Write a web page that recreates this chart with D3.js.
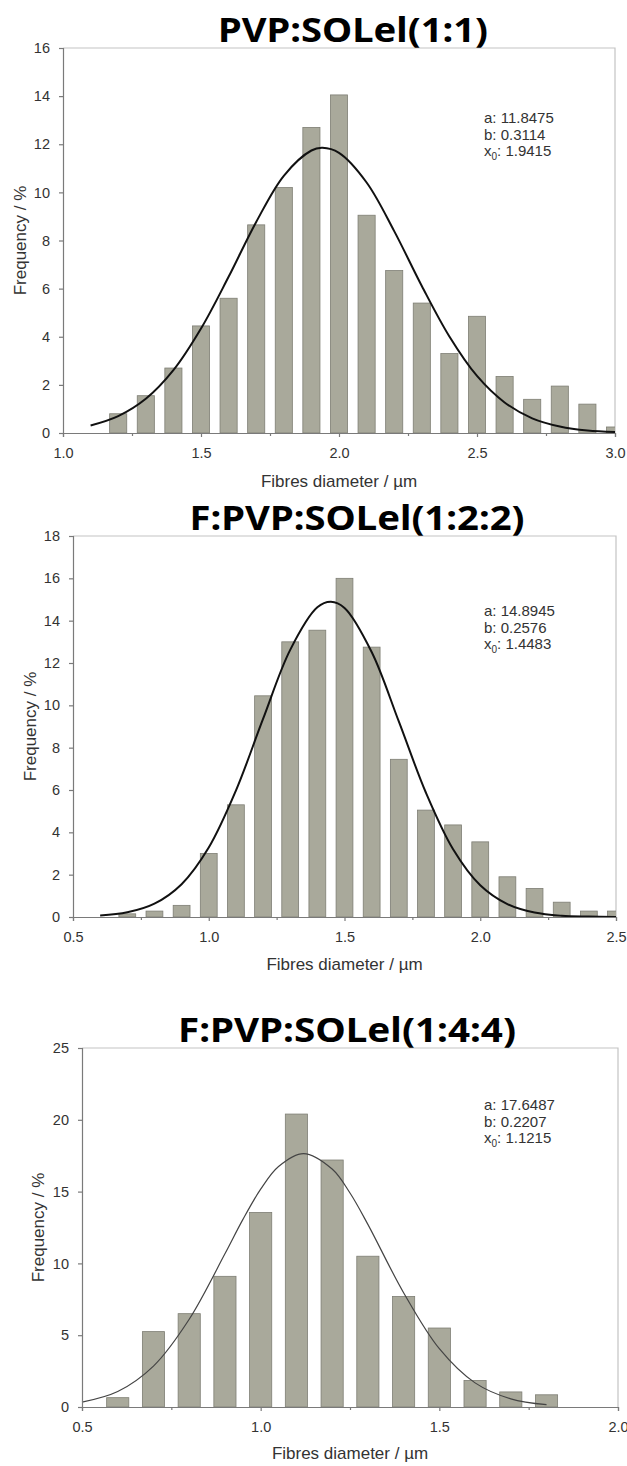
<!DOCTYPE html>
<html>
<head>
<meta charset="utf-8">
<script src="https://cdn.jsdelivr.net/npm/d3@7"></script>
<style>
body{margin:0;background:#fff}
svg{display:block}
</style>
</head>
<body>
<div id="container"></div>
<script>
const width = 627
const height = 1466

// panel 1 : PVP:SOLel(1:1)
const bins1 = [1.2,1.3,1.4,1.5,1.6,1.7,1.8,1.9,2.0,2.1,2.2,2.3,2.4,2.5,2.6,2.7,2.8,2.9,3.0]
const freq1 = [0.8,1.55,2.7,4.45,5.6,8.65,10.2,12.7,14.05,9.05,6.75,5.4,3.3,4.85,2.35,1.4,1.95,1.2,0.25]
const fitX1 = [1.1,1.2,1.3,1.4,1.5,1.6,1.7,1.8,1.9,1.94,2.0,2.1,2.2,2.3,2.4,2.5,2.6,2.7,2.8,2.9,3.0]
const fitY1 = [0.31,0.70,1.42,2.61,4.34,6.49,8.77,10.69,11.74,11.85,11.64,10.41,8.39,6.11,4.01,2.37,1.27,0.61,0.27,0.10,0.04]
const xTicks1 = [1.0,1.5,2.0,2.5,3.0]
const yTicks1 = [0,2,4,6,8,10,12,14,16]

// panel 2 : F:PVP:SOLel(1:2:2)
const bins2 = [0.7,0.8,0.9,1.0,1.1,1.2,1.3,1.4,1.5,1.6,1.7,1.8,1.9,2.0,2.1,2.2,2.3,2.4,2.5]
const freq2 = [0.15,0.28,0.55,3.0,5.3,10.45,13.0,13.55,16.0,12.75,7.45,5.05,4.35,3.55,1.9,1.35,0.7,0.28,0.28]
const fitX2 = [0.6,0.7,0.8,0.9,1.0,1.1,1.2,1.3,1.4,1.45,1.5,1.6,1.7,1.8,1.9,2.0,2.1,2.2,2.3,2.4,2.5]
const fitY2 = [0.07,0.22,0.63,1.55,3.28,5.97,9.36,12.62,14.63,14.89,14.60,12.52,9.24,5.87,3.20,1.50,0.61,0.21,0.06,0.02,0.00]
const xTicks2 = [0.5,1.0,1.5,2.0,2.5]
const yTicks2 = [0,2,4,6,8,10,12,14,16,18]

// panel 3 : F:PVP:SOLel(1:4:4)
const bins3 = [0.6,0.7,0.8,0.9,1.0,1.1,1.2,1.3,1.4,1.5,1.6,1.7,1.8]
const freq3 = [0.65,5.25,6.5,9.1,13.55,20.4,17.2,10.5,7.7,5.5,1.85,1.05,0.85]
const fitX3 = [0.5,0.6,0.7,0.8,0.9,0.95,1.0,1.05,1.12,1.2,1.25,1.3,1.4,1.5,1.6,1.7,1.8]
const fitY3 = [0.34,1.08,2.85,6.11,10.67,13.05,15.17,16.75,17.65,16.57,14.90,12.72,7.96,4.06,1.68,0.57,0.16]
const xTicks3 = [0.5,1.0,1.5,2.0]
const yTicks3 = [0,5,10,15,20,25]

const titles = ["PVP:SOLel(1:1)","F:PVP:SOLel(1:2:2)","F:PVP:SOLel(1:4:4)"]
const fitA = ["11.8475","14.8945","17.6487"]
const fitB = ["0.3114","0.2576","0.2207"]
const fitX0 = ["1.9415","1.4483","1.1215"]

const panels = [
  {bins:bins1,freq:freq1,fx:fitX1,fy:fitY1,xt:xTicks1,yt:yTicks1,
   left:63,right:615,top:48,bottom:433,titleX:353,titleW:270,yTitleX:20,xTitleY:481,noteY:118,lw:2,lc:"#111"},
  {bins:bins2,freq:freq2,fx:fitX2,fy:fitY2,xt:xTicks2,yt:yTicks2,
   left:73,right:616,top:536,bottom:917,titleX:357,titleW:335,yTitleX:30,xTitleY:964,noteY:611,lw:2,lc:"#111"},
  {bins:bins3,freq:freq3,fx:fitX3,fy:fitY3,xt:xTicks3,yt:yTicks3,
   left:82,right:618,top:1048,bottom:1407,titleX:347,titleW:338,yTitleX:38,xTitleY:1453,noteY:1105,lw:1.2,lc:"#444"}
]

const svg = d3.select("#container")
  .append("svg")
  .attr("width",width)
  .attr("height",height)

const fontAxis = "'Liberation Sans', Arial, sans-serif"

panels.forEach((p,i)=>{
  const g = svg.append("g")

  const x = d3.scaleLinear()
    .domain([p.xt[0],p.xt[p.xt.length-1]])
    .range([p.left,p.right])
  const y = d3.scaleLinear()
    .domain([0,p.yt[p.yt.length-1]])
    .range([p.bottom,p.top])

  const step = p.xt[1]-p.xt[0]
  const minor = p.xt.slice(0,-1).map(v=>v+step/2)
  const half = 0.031 // half bar width, in µm

  // clip so the last bar is cut at the right frame
  g.append("clipPath").attr("id","clip"+i)
    .append("rect")
    .attr("x",p.left).attr("y",p.top-2)
    .attr("width",p.right-p.left).attr("height",p.bottom-p.top+2)

  // frame top + right
  g.append("path")
    .attr("d",`M${p.left},${p.top}H${p.right}V${p.bottom}`)
    .attr("fill","none")
    .attr("stroke","#c4c4c4")
    .attr("stroke-width",1.2)

  g.append("g").attr("clip-path",`url(#clip${i})`)
    .selectAll("rect")
    .data(p.bins)
    .join("rect")
    .attr("x",d=>x(d-half))
    .attr("width",d=>x(d+half)-x(d-half))
    .attr("y",(d,k)=>y(p.freq[k]))
    .attr("height",(d,k)=>y(0)-y(p.freq[k]))
    .attr("fill","#a9a99b")
    .attr("stroke","#7e7e74")
    .attr("stroke-width",0.8)

  const line = d3.line()
    .x(d=>x(d[0]))
    .y(d=>y(d[1]))
    .curve(d3.curveCatmullRom.alpha(0.5))

  g.append("path")
    .attr("d",line(p.fx.map((v,k)=>[v,p.fy[k]])))
    .attr("fill","none")
    .attr("stroke",p.lc)
    .attr("stroke-width",p.lw)

  // axes
  g.append("g")
    .attr("transform",`translate(0,${p.bottom})`)
    .call(d3.axisBottom(x).tickValues(p.xt).tickSize(4).tickPadding(11).tickFormat(d3.format(".1f")))
  g.append("g")
    .attr("transform",`translate(0,${p.bottom})`)
    .call(d3.axisBottom(x).tickValues(minor).tickSize(3).tickFormat(""))
    .call(a=>a.select(".domain").remove())
  g.append("g")
    .attr("transform",`translate(${p.left},0)`)
    .call(d3.axisLeft(y).tickValues(p.yt).tickSize(4).tickPadding(9).tickFormat(d3.format("d")))

  g.selectAll(".domain, .tick line").attr("stroke","#7a7a7a").attr("stroke-width",1.2)
  g.selectAll(".tick text")
    .attr("fill","#333")
    .style("font-family",fontAxis)
    .style("font-size","14.5px")

  // titles
  g.append("text")
    .attr("x",p.titleX).attr("y",p.top-6)
    .attr("text-anchor","middle")
    .attr("textLength",p.titleW)
    .attr("lengthAdjust","spacingAndGlyphs")
    .style("font-family","'Noto Sans', 'Open Sans', sans-serif")
    .style("font-weight","bold")
    .style("font-size","34px")
    .attr("fill","#000")
    .text(titles[i])

  g.append("text")
    .attr("x",(p.left+p.right)/2).attr("y",p.xTitleY)
    .attr("dy","0.35em")
    .attr("text-anchor","middle")
    .style("font-family",fontAxis)
    .style("font-size","17px")
    .attr("fill","#333")
    .text("Fibres diameter / µm")

  g.append("text")
    .attr("transform",`translate(${p.yTitleX},${(p.top+p.bottom)/2}) rotate(-90)`)
    .attr("dy","0.35em")
    .attr("text-anchor","middle")
    .style("font-family",fontAxis)
    .style("font-size","17px")
    .attr("fill","#333")
    .text("Frequency / %")

  // fit parameters
  const note = g.append("g")
    .style("font-family",fontAxis)
    .style("font-size","15px")
    .attr("fill","#333")
  note.append("text").attr("x",484).attr("y",p.noteY).attr("dy","0.35em").text("a: "+fitA[i])
  note.append("text").attr("x",484).attr("y",p.noteY+16.5).attr("dy","0.35em").text("b: "+fitB[i])
  const t = note.append("text").attr("x",484).attr("y",p.noteY+33).attr("dy","0.35em")
  t.append("tspan").text("x")
  t.append("tspan").attr("dy","4").style("font-size","10px").text("0")
  t.append("tspan").attr("dy","-4").text(": "+fitX0[i])
})
</script>
</body>
</html>
